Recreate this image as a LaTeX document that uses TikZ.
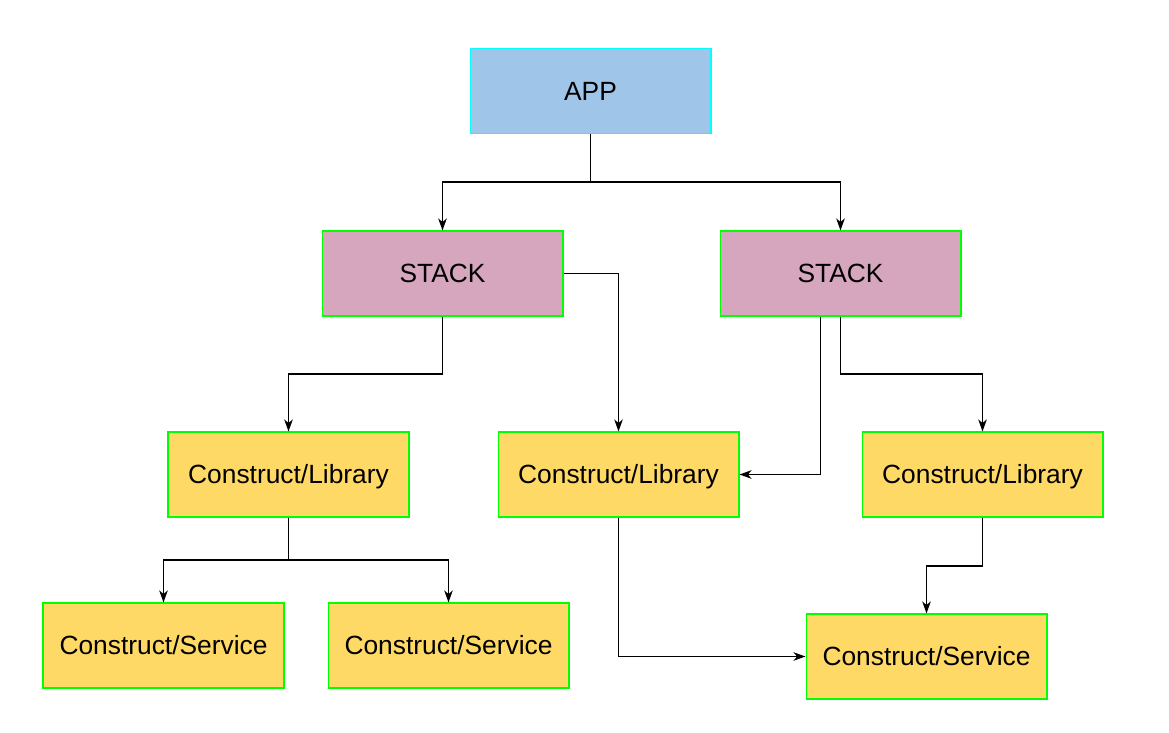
\documentclass[tikz,border=0pt]{standalone}
\usepackage{fontspec}
\setmainfont{Liberation Sans}
\usetikzlibrary{arrows.meta}
\definecolor{appfill}{HTML}{9FC5E8}
\definecolor{stackfill}{HTML}{D5A6BD}
\definecolor{partfill}{HTML}{FFD966}
\definecolor{edgegreen}{HTML}{00FF00}
\definecolor{edgecyan}{HTML}{00FFFF}
\tikzset{
    box/.style={draw, line width=0.6pt, minimum width=4.82cm, minimum height=1.7cm,
        inner sep=0pt, text height=10.8pt, text depth=0pt, font=\fontsize{15}{18}\selectfont},
    appbox/.style={box, fill=appfill, draw=edgecyan},
    stackbox/.style={box, fill=stackfill, draw=edgegreen},
    partbox/.style={box, fill=partfill, draw=edgegreen},
    link/.style={line width=0.75pt, -{Stealth[length=2.4mm, width=1.7mm, inset=0.7mm]}},
}

\begin{document}
\begin{tikzpicture}[x=0.02cm, y=-0.02cm]
    \useasboundingbox (0,0) rectangle (1169,733);
    \node[appbox] (app) at (590.5,91) {APP};
    \node[stackbox] (stackL) at (442.5,273.5) {STACK};
    \node[stackbox] (stackR) at (840.5,273.5) {STACK};
    \node[partbox] (libA) at (288.5,474.5) {Construct/Library};
    \node[partbox] (libB) at (618.5,474.5) {Construct/Library};
    \node[partbox] (libC) at (982.5,474.5) {Construct/Library};
    \node[partbox] (svcA) at (163.5,645.5) {Construct/Service};
    \node[partbox] (svcB) at (448.5,645.5) {Construct/Service};
    \node[partbox] (svcC) at (926.5,656.5) {Construct/Service};
    % app to stacks
    \draw[link] (app.south) -- (app.south |- 0,182) -| (stackL.north);
    \draw[link] (app.south) -- (app.south |- 0,182) -| (stackR.north);
    % stacks to libraries
    \draw[link] (stackL.south) -- (stackL.south |- 0,374) -| (libA.north);
    \draw[link] (stackL.east) -| (libB.north);
    \draw[link] ([xshift=-0.4cm]stackR.south) |- (libB.east);
    \draw[link] (stackR.south) -- (stackR.south |- 0,374) -| (libC.north);
    % libraries to services
    \draw[link] (libA.south) -- (libA.south |- 0,560) -| (svcA.north);
    \draw[link] (libA.south) -- (libA.south |- 0,560) -| (svcB.north);
    \draw[link] (libB.south) |- (svcC.west);
    \draw[link] (libC.south) -- (libC.south |- 0,566) -| (svcC.north);
\end{tikzpicture}
\end{document}
